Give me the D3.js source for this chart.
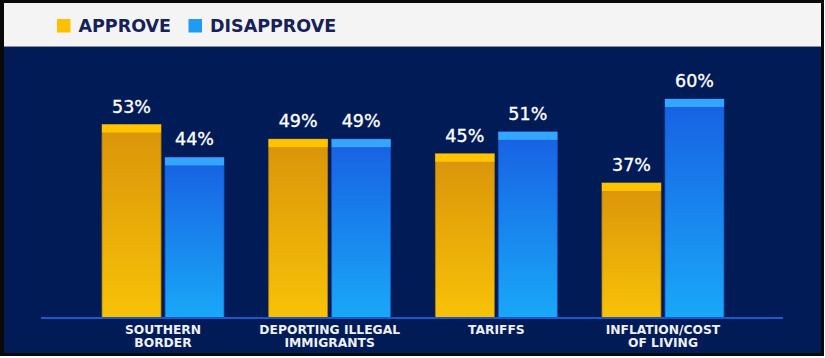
<!DOCTYPE html>
<html>
<head>
<meta charset="utf-8">
<script src="https://cdn.jsdelivr.net/npm/d3@7"></script>
<style>
  html, body { margin: 0; padding: 0; background: #ffffff; }
  svg { display: block; }
</style>
</head>
<body>
<svg id="chart" width="825" height="358"></svg>
<script>
const categories = ["SOUTHERN BORDER", "DEPORTING ILLEGAL IMMIGRANTS", "TARIFFS", "INFLATION/COST OF LIVING"];
const categoryLines = [["SOUTHERN", "BORDER"], ["DEPORTING ILLEGAL", "IMMIGRANTS"], ["TARIFFS"], ["INFLATION/COST", "OF LIVING"]];
const seriesNames = ["APPROVE", "DISAPPROVE"];
const approve = [53, 49, 45, 37];
const disapprove = [44, 49, 51, 60];

const svg = d3.select("#chart");
const W = 825, H = 358;
const font = "'DejaVu Sans', sans-serif";

// frame
svg.append("rect").attr("x", 0).attr("y", 0).attr("width", W - 1).attr("height", H - 2).attr("fill", "#0a0a0a");
svg.append("rect").attr("x", 4).attr("y", 3).attr("width", 817).attr("height", 43).attr("fill", "#f4f4f4");
svg.append("rect").attr("x", 4).attr("y", 46).attr("width", 817).attr("height", 1).attr("fill", "#8a8fa0");
svg.append("rect").attr("x", 4).attr("y", 47).attr("width", 817).attr("height", 306).attr("fill", "#001b55");

const defs = svg.append("defs");
const gA = defs.append("linearGradient").attr("id", "gA").attr("x1", 0).attr("y1", 0).attr("x2", 0).attr("y2", 1);
gA.append("stop").attr("offset", "0%").attr("stop-color", "#d9940a");
gA.append("stop").attr("offset", "100%").attr("stop-color", "#f8c208");
const gD = defs.append("linearGradient").attr("id", "gD").attr("x1", 0).attr("y1", 0).attr("x2", 0).attr("y2", 1);
gD.append("stop").attr("offset", "0%").attr("stop-color", "#1860e2");
gD.append("stop").attr("offset", "100%").attr("stop-color", "#19a8f8");

const fills = ["url(#gA)", "url(#gD)"];
const caps = ["#ffc400", "#35a6ff"];
const strokes = ["#b07a08", "#1550c0"];
const legendColors = ["#ffc000", "#1f9cf2"];

// legend
const legendX = [57, 188.5];
seriesNames.forEach((s, i) => {
  svg.append("rect").attr("x", legendX[i]).attr("y", 19).attr("width", 13.5).attr("height", 13.5).attr("fill", legendColors[i]);
  svg.append("text").attr("x", legendX[i] + 21.5).attr("y", 32.3)
    .attr("font-family", font).attr("font-weight", "bold").attr("font-size", "17.5px")
    .attr("fill", "#16215a").text(s);
});

// scales
const x = d3.scaleBand().domain(categories).range([79.7, 746.3]).padding(0);
const xs = d3.scaleBand().domain(seriesNames).range([0, 122]).paddingInner(0.0635).paddingOuter(0);
const y = d3.scaleLinear().domain([0, 100]).range([318, -47]);
const off = (x.bandwidth() - 122) / 2;

const data = [];
categories.forEach((c, ci) => {
  [approve[ci], disapprove[ci]].forEach((v, si) => data.push({ c, s: seriesNames[si], si, v }));
});

const g = svg.append("g");
data.forEach(d => {
  const bx = x(d.c) + off + xs(d.s);
  const bw = xs.bandwidth();
  const top = y(d.v);
  g.append("rect").attr("x", bx).attr("y", top).attr("width", bw).attr("height", y(0) - top)
    .attr("fill", fills[d.si]).attr("stroke", strokes[d.si]).attr("stroke-width", 0.8);
  g.append("rect").attr("x", bx).attr("y", top).attr("width", bw).attr("height", 8).attr("fill", caps[d.si]);
  g.append("text").attr("x", bx + bw / 2).attr("y", top - 12)
    .attr("text-anchor", "middle").attr("font-family", font).attr("font-size", "17.5px")
    .attr("fill", "#ffffff").attr("stroke", "#ffffff").attr("stroke-width", 0.35)
    .text(d.v + "%");
});

// baseline
svg.append("line").attr("x1", 41).attr("x2", 783).attr("y1", y(0)).attr("y2", y(0))
  .attr("stroke", "#1a58cc").attr("stroke-width", 2);

// category labels
categories.forEach((c, ci) => {
  const cx = x(c) + x.bandwidth() / 2;
  const t = svg.append("text").attr("text-anchor", "middle").attr("font-family", font)
    .attr("font-weight", "bold").attr("font-size", "12.3px").attr("fill", "#eef0f6");
  categoryLines[ci].forEach((line, li) => {
    t.append("tspan").attr("x", cx).attr("y", 333.8 + li * 13.3).text(line);
  });
});
</script>
</body>
</html>
